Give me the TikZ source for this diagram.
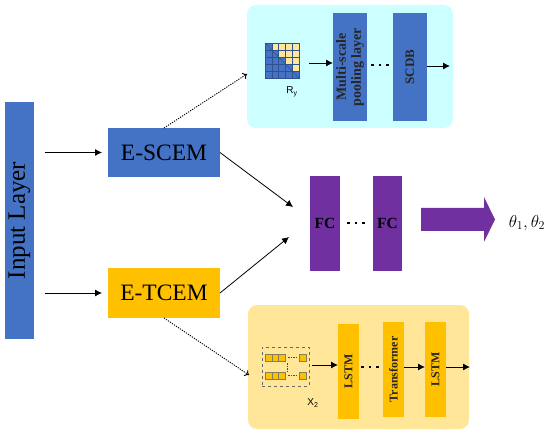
\documentclass[tikz,border=0pt]{standalone}
\usepackage{fontspec}
\usepackage{amsmath}
\setmainfont{Liberation Serif}
\setsansfont{Liberation Sans}
\usetikzlibrary{arrows.meta, positioning, calc}
\definecolor{cblue}{HTML}{4472C4}
\definecolor{cgold}{HTML}{FFC000}
\definecolor{cpurple}{HTML}{7030A0}
\definecolor{ccyan}{HTML}{CCFFFF}
\definecolor{cpale}{HTML}{FFE699}
\definecolor{cgrid}{HTML}{2F528F}
\tikzset{
    block/.style={rectangle, inner sep=0pt, outer sep=0pt, anchor=north west},
    panel/.style={block, rounded corners=9pt},
    vtext/.style={rotate=90, align=center, text=black!85},
    ddots/.style={line width=2.6pt, dash pattern=on 2.6pt off 5pt},
    dotline/.style={-{To[length=4pt,width=7pt]}, line width=0.9pt, dash pattern=on 1.2pt off 1.2pt},
}
\begin{document}
\begin{tikzpicture}[x=1pt, y=-1pt, >={Latex[length=7pt,width=7pt]}]
    \useasboundingbox (0,0) rectangle (550,436);

    \node [panel, fill=ccyan, minimum width=206pt, minimum height=123pt] (scpanel) at (247,5) {};
    \node [panel, fill=cpale, minimum width=221pt, minimum height=124pt] (tcpanel) at (248,305) {};

    \node [block, fill=cblue, minimum width=29pt, minimum height=237pt] (input) at (5,102) {};
    \node [rotate=90, font=\fontsize{25}{25}\selectfont] at (input.center) {Input Layer};
    \node [block, fill=cblue, minimum width=112pt, minimum height=49pt, font=\fontsize{23.5}{24}\selectfont] (scem) at (108,128) {E-SCEM};
    \node [block, fill=cgold, minimum width=112pt, minimum height=50pt, font=\fontsize{23.5}{24}\selectfont] (tcem) at (108,268) {E-TCEM};
    \coordinate (inup) at (45,152.5);
    \coordinate (indown) at (45,293);
    \draw [->, line width=0.8pt] (inup) -- (inup -| 102,0);
    \draw [->, line width=0.8pt] (indown) -- (indown -| 102,0);

    \node [block, fill=cblue, minimum width=34pt, minimum height=108pt] (pool) at (333,13) {};
    \node [vtext, font=\fontsize{14}{15}\selectfont\bfseries] at (pool.center) {Multi-scale\\pooling layer};
    \node [block, fill=cblue, minimum width=34pt, minimum height=108pt] (scdb) at (393,13) {};
    \node [vtext, font=\fontsize{13}{15}\selectfont\bfseries] at (scdb.center) {SCDB};

    \foreach \row in {0,...,4} {
        \foreach \col in {0,...,4} {
            \pgfmathsetmacro{\cellcol}{\col>\row ? "cpale" : "cblue"}
            \draw [cgrid, fill=\cellcol, line width=0.3pt] (265+\col*6.8,43+\row*7) rectangle ++(6.8,7);
        }
    }
    \coordinate (mattop) at (265,43);
    \coordinate (matend) at (299,78);
    \draw [cgrid, line width=0.5pt] (mattop) -- (matend);
    \node [font=\sffamily\fontsize{10}{10}\selectfont] (ry) at (292,92) {R\textsubscript{y}};

    \coordinate (matout) at (309,63);
    \draw [->, line width=0.9pt] (matout) -- (pool.west |- matout);
    \draw [ddots] (371,65) -- (390,65);
    \coordinate (scout) at (450,66);
    \draw [->, line width=0.9pt] (scdb.east |- scout) -- (scout);

    \node [block, fill=cgold, minimum width=21pt, minimum height=95pt] (lstma) at (338,324) {};
    \node [vtext, font=\fontsize{12}{12}\selectfont\bfseries] at (lstma.center) {LSTM};
    \node [block, fill=cgold, minimum width=21pt, minimum height=95pt] (trans) at (383,322) {};
    \node [vtext, font=\fontsize{12}{12}\selectfont\bfseries] at (trans.center) {Transformer};
    \node [block, fill=cgold, minimum width=21pt, minimum height=95pt] (lstmb) at (425,322) {};
    \node [vtext, font=\fontsize{12}{12}\selectfont\bfseries] at (lstmb.center) {LSTM};

    \node [block, draw=black!60, dashed, line width=0.8pt, minimum width=47pt, minimum height=39pt] (seq) at (262,347) {};
    \foreach \y in {354,372} {
        \foreach \x in {265,271.7,278.4,299} {
            \draw [cgrid!60!cgold, fill=cgold, line width=0.3pt] (\x,\y) rectangle ++(6.7,7);
        }
        \draw [black!70, semithick, dash pattern=on 1.5pt off 1pt] (288,\y+3.5) -- (297,\y+3.5);
    }
    \draw [black!70, semithick, dash pattern=on 1.5pt off 1pt] (287,363) -- (287,371);
    \node [font=\sffamily\fontsize{10}{10}\selectfont] (xtwo) at (313,403) {X\textsubscript{2}};

    \coordinate (seqout) at (312,365);
    \draw [->, line width=0.9pt] (seqout) -- (lstma.west |- seqout);
    \draw [ddots] (361,367) -- (381,367);
    \coordinate (transy) at (404,367);
    \draw [->, line width=0.9pt] (transy) -- (lstmb.west |- transy);
    \coordinate (tcout) at (470,367);
    \draw [->, line width=0.9pt] (lstmb.east |- tcout) -- (tcout);

    \node [block, fill=cpurple, minimum width=30pt, minimum height=95pt, font=\fontsize{15.5}{16}\selectfont\bfseries] (fca) at (310,176) {FC};
    \node [block, fill=cpurple, minimum width=29pt, minimum height=95pt, font=\fontsize{15.5}{16}\selectfont\bfseries] (fcb) at (373,176) {FC};
    \draw [ddots] (347,223) -- (366,223);
    \fill [cpurple] (421,208) -- (484,208) -- (484,197) -- (495,219.5) -- (484,242) -- (484,231) -- (421,231) -- cycle;
    \node [font=\fontsize{18}{18}\selectfont] (theta) at (527,223) {$\theta_1,\theta_2$};

    \coordinate (fcup) at (293,207);
    \coordinate (fcdown) at (289,237);
    \draw [->, line width=0.8pt] (scem.east) -- (fcup);
    \draw [->, line width=0.8pt] (tcem.east) -- (fcdown);

    \coordinate (scend) at (247,74);
    \coordinate (tcend) at (249,375);
    \draw [dotline] (scem.north) -- (scend);
    \draw [dotline] (tcem.south) -- (tcend);
\end{tikzpicture}
\end{document}
